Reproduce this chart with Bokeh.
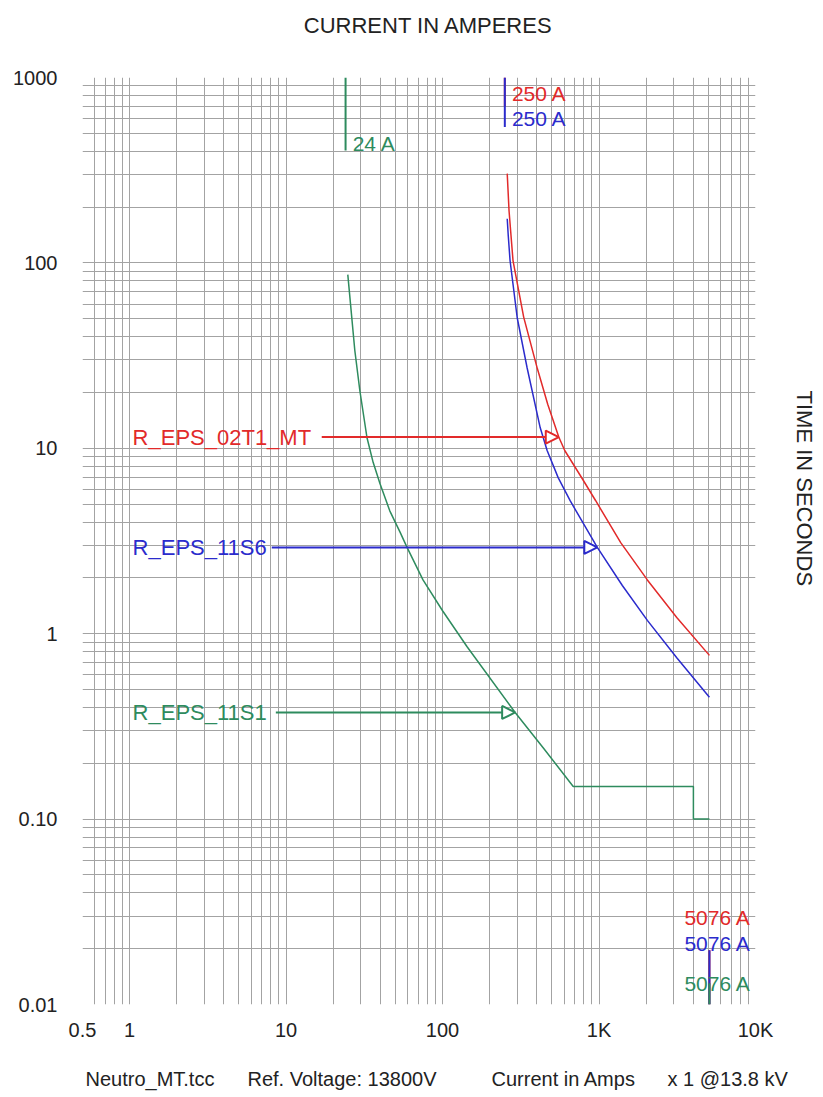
import numpy as np
from bokeh.plotting import figure
from bokeh.layouts import column, row
from bokeh.models import Range1d, FixedTicker, Label, Arrow, NormalHead
from bokeh.embed import file_html
from bokeh.resources import INLINE
from bokeh.core.properties import value

# ---------------- data ----------------
# R_EPS_02T1_MT (red)
red_amps = [259, 266, 282, 330, 403, 470, 553, 605, 782, 950, 1376, 2036, 3148, 5076]
red_secs = [303, 191, 103, 51, 27.0, 17.3, 11.5, 9.7, 6.85, 5.23, 3.1, 1.95, 1.22, 0.764]
# R_EPS_11S6 (blue)
blue_amps = [259, 263, 270, 300, 347, 421, 466, 548, 655, 975, 1409, 2036, 3148, 5076]
blue_secs = [173, 140, 103, 50.6, 27.2, 12.9, 9.72, 6.95, 5.2, 2.92, 1.82, 1.18, 0.74, 0.454]
# R_EPS_11S1 (green)
green_amps = [24.8, 27.5, 29.6, 32.9, 36.0, 39.8, 46.0, 53.5, 59.3, 75, 100, 143.5, 291, 442, 684, 4010, 4010, 5076]
green_secs = [86.5, 33.7, 20.5, 11.4, 8.4, 6.46, 4.6, 3.53, 2.92, 1.95, 1.33, 0.85, 0.376, 0.241, 0.15, 0.15, 0.1, 0.1]

relay_names = ["R_EPS_02T1_MT", "R_EPS_11S6", "R_EPS_11S1"]
relay_colors = ["#e22a2a", "#2b2bcc", "#2e8b5e"]
arrow_secs = [11.5, 2.92, 0.376]
arrow_start_amps = [16.9, 8.1, 8.6]
arrow_tip_amps = [553, 975, 291]

pickup_amps = [250, 250, 24]          # red, blue, green pickup markers (top)
pickup_top_end = [700, 540, 404]      # lower end of the marker line (s)
pickup_label_secs = [820, 601, 441]
pickup_labels = ["250 A", "250 A", "24 A"]

inst_amps = 5076                      # bottom markers
inst_top_end = [0.0196, 0.0196, 0.013]
inst_label_secs = [0.0295, 0.0213, 0.013]
inst_labels = ["5076 A", "5076 A", "5076 A"]

x_tick_vals = [0.5, 1, 10, 100, 1000, 10000]
x_tick_text = ["0.5", "1", "10", "100", "1K", "10K"]
y_tick_vals = [0.01, 0.1, 1, 10, 100, 1000]
y_tick_text = ["0.01", "0.10", "1", "10", "100", "1000"]

x_title = "CURRENT IN AMPERES"
y_title = "TIME IN SECONDS"
footer_parts = ["Neutro_MT.tcc", "Ref. Voltage: 13800V", "Current in Amps", "x 1 @13.8 kV"]
footer_px = [85, 247, 491, 667]

# ---------------- layout ----------------
PAGE_W = 823
FL, FR, FT, FB = 82, 755, 77, 1004
TOP_H = 50
P_RIGHT = 19
P_BOTTOM = 56
P_W = FL + (FR - FL) + P_RIGHT
FOOT_H = 36
FONT = "Liberation Sans"
TXT = "#222222"

p = figure(x_axis_type="log", y_axis_type="log",
           x_range=Range1d(0.5, 10000), y_range=Range1d(0.01, 1000),
           frame_width=FR - FL, frame_height=FB - FT,
           min_border_left=FL, min_border_top=FT - TOP_H,
           min_border_right=P_RIGHT, min_border_bottom=P_BOTTOM,
           output_backend="svg", toolbar_location=None)
p.outline_line_color = None
p.background_fill_color = "white"
p.border_fill_color = "white"

# grid: every 1..9 of each decade
xgrid_vals = [0.5, 0.6, 0.7, 0.8, 0.9] + [m * 10 ** e for e in range(0, 4) for m in range(1, 10)] + [10000]
ygrid_vals = [m * 10 ** e for e in range(-2, 3) for m in range(1, 10)][1:] + [1000]
p.xgrid.ticker = FixedTicker(ticks=xgrid_vals)
p.ygrid.ticker = FixedTicker(ticks=ygrid_vals)
for g in (p.xgrid, p.ygrid):
    g.grid_line_color = "#a3a3a3"
    g.grid_line_width = 1
    g.minor_grid_line_color = None

for ax, vals, txt in ((p.xaxis, x_tick_vals, x_tick_text), (p.yaxis, y_tick_vals, y_tick_text)):
    ax.ticker = FixedTicker(ticks=vals, minor_ticks=[])
    ax.major_label_overrides = {v: t for v, t in zip(vals, txt)}
    ax.axis_line_color = None
    ax.major_tick_line_color = None
    ax.minor_tick_line_color = None
    ax.major_tick_out = 0
    ax.major_tick_in = 0
    ax.major_label_text_font = FONT
    ax.major_label_text_font_size = "20px"
    ax.major_label_text_color = TXT
p.xaxis.major_label_standoff = 14
p.yaxis.major_label_standoff = 25

# curves
p.line(green_amps, green_secs, line_color=relay_colors[2], line_width=1.5)
p.line(blue_amps, blue_secs, line_color=relay_colors[1], line_width=1.5)
p.line(red_amps, red_secs, line_color=relay_colors[0], line_width=1.5)

# pickup marker lines (top) and instantaneous marker lines (bottom)
for i in range(3):
    p.line([pickup_amps[i], pickup_amps[i]], [1000, pickup_top_end[i]],
           line_color=relay_colors[i], line_width=2)
for i in range(3):
    p.line([inst_amps, inst_amps], [0.01, inst_top_end[i]],
           line_color=relay_colors[i], line_width=2)

# pickup labels
for i in range(3):
    p.add_layout(Label(x=pickup_amps[i] * 1.11, y=pickup_label_secs[i], text=pickup_labels[i],
                       text_font=FONT, text_font_size="21px", text_color=relay_colors[i],
                       text_baseline="middle", text_align="left"))
for i in range(3):
    p.add_layout(Label(x=inst_amps * 0.692, y=inst_label_secs[i], text=inst_labels[i],
                       text_font=FONT, text_font_size="21px", text_color=relay_colors[i],
                       text_baseline="middle", text_align="left"))

# relay name labels with arrows
for i in range(3):
    p.add_layout(Label(x=1.045, y=arrow_secs[i], text=relay_names[i],
                       text_font=FONT, text_font_size="22px", text_color=relay_colors[i],
                       text_baseline="middle", text_align="left"))
    p.add_layout(Arrow(end=NormalHead(size=13, fill_color="white", line_color=relay_colors[i],
                                      line_width=2),
                       x_start=arrow_start_amps[i], y_start=arrow_secs[i],
                       x_end=arrow_tip_amps[i], y_end=arrow_secs[i],
                       line_color=relay_colors[i], line_width=2))


# ---------------- text strips around the chart ----------------
def strip(w, h, top=0, bottom=0):
    s = figure(frame_width=w, frame_height=h, x_range=Range1d(0, w), y_range=Range1d(0, h),
               min_border_left=0, min_border_right=0, min_border_top=top, min_border_bottom=bottom,
               x_axis_location=None, y_axis_location=None,
               output_backend="svg", toolbar_location=None)
    s.grid.visible = False
    s.outline_line_color = None
    return s


top = strip(PAGE_W, TOP_H)
top.text(x=[428], y=[TOP_H - 25], text=[x_title], text_font=value(FONT),
         text_font_size="22px", text_color=TXT, text_align="center", text_baseline="middle")

# right strip shares the chart frame's vertical extent
RF_H = FB - FT
right = strip(PAGE_W - P_W, RF_H, top=FT - TOP_H, bottom=P_BOTTOM)
right.text(x=[804 - P_W], y=[RF_H - (390 - FT)], text=[y_title], angle=-np.pi / 2,
           text_font=value(FONT), text_font_size="22px", text_color=TXT,
           text_align="left", text_baseline="middle")

foot = strip(PAGE_W, FOOT_H)
foot.text(x=footer_px, y=[FOOT_H / 2] * len(footer_px), text=footer_parts,
          text_font=value(FONT), text_font_size="20px", text_color=TXT,
          text_align="left", text_baseline="middle")

layout = column(top, row(p, right, spacing=0), foot, spacing=0)
open("out.html", "w").write(file_html(layout, INLINE))
